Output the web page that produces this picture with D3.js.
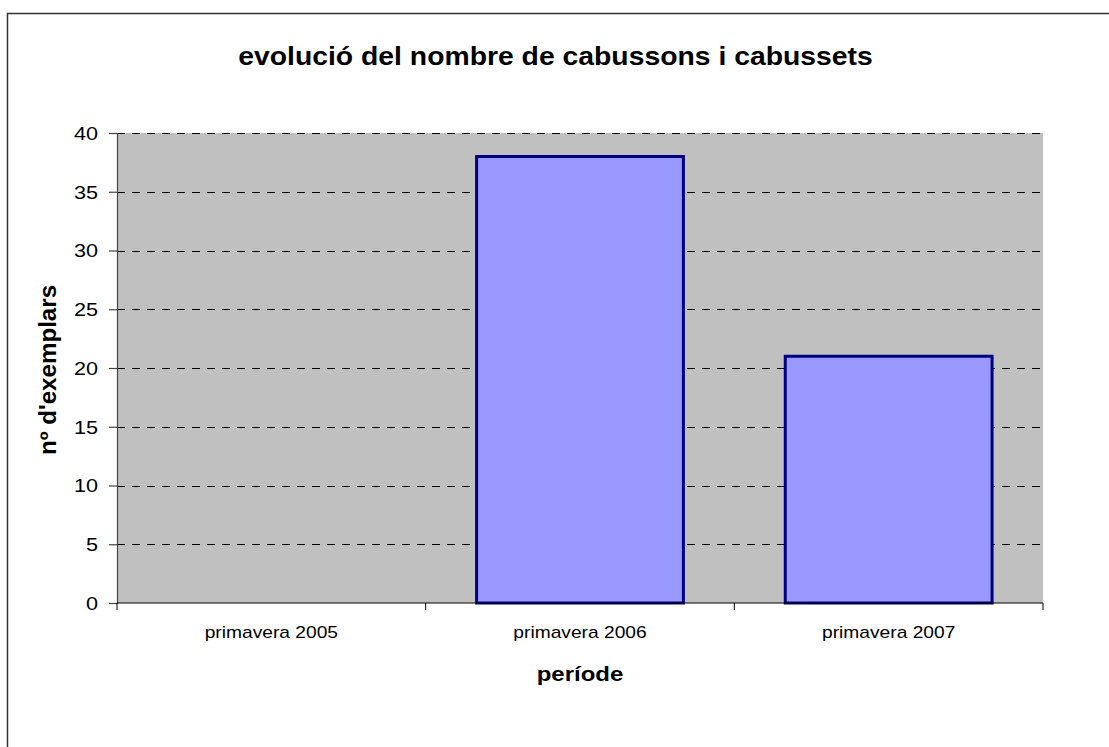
<!DOCTYPE html>
<html>
<head>
<meta charset="utf-8">
<script src="https://cdn.jsdelivr.net/npm/d3@7"></script>
<style>
  body { margin: 0; background: #fff; }
  text { font-family: "Liberation Sans", Arial, sans-serif; fill: #000; }
</style>
</head>
<body>
<div id="chart"></div>
<script>
// chart data
var categories = ["primavera 2005", "primavera 2006", "primavera 2007"];
var values = [0, 38, 21];
var yTicks = [0, 5, 10, 15, 20, 25, 30, 35, 40];

var width = 1109, height = 747;
var plot = {left: 117, top: 133, right: 1043, bottom: 603};

var svg = d3.select("#chart").append("svg")
    .attr("width", width)
    .attr("height", height);

// outer chart border (runs off the picture on right and bottom)
svg.append("rect")
    .attr("x", 7.5).attr("y", 13.5)
    .attr("width", 1130).attr("height", 760)
    .attr("fill", "#fff")
    .attr("stroke", "#333")
    .attr("stroke-width", 1.5);

var x = d3.scaleBand()
    .domain(categories)
    .range([plot.left, plot.right])
    .padding(0);

var y = d3.scaleLinear()
    .domain([0, 40])
    .range([plot.bottom, plot.top]);

// plot area
svg.append("rect")
    .attr("x", plot.left).attr("y", plot.top)
    .attr("width", plot.right - plot.left)
    .attr("height", plot.bottom - plot.top)
    .attr("fill", "#c0c0c0");

// dashed gridlines
svg.append("g")
    .selectAll("line")
    .data(yTicks.filter(function(d) { return d > 0; }))
    .join("line")
    .attr("x1", plot.left).attr("x2", plot.right)
    .attr("y1", function(d) { return Math.round(y(d)) + 0.5; })
    .attr("y2", function(d) { return Math.round(y(d)) + 0.5; })
    .attr("stroke", "#000")
    .attr("stroke-width", 1)
    .attr("stroke-dasharray", "8,7");

// bars
var barW = x.bandwidth() * 0.67;
svg.append("g")
    .selectAll("rect")
    .data(values)
    .join("rect")
    .attr("x", function(d, i) { return x(categories[i]) + (x.bandwidth() - barW) / 2; })
    .attr("y", function(d) { return y(d); })
    .attr("width", barW)
    .attr("height", function(d) { return plot.bottom - y(d); })
    .attr("fill", "#9999ff")
    .attr("stroke", "#000080")
    .attr("stroke-width", 3)
    .style("display", function(d) { return d > 0 ? null : "none"; });

// y axis
var yAxis = svg.append("g")
    .attr("transform", "translate(" + plot.left + ",0)")
    .call(d3.axisLeft(y).tickValues(yTicks).tickSize(8));
yAxis.selectAll("path, line").attr("stroke", "#444").attr("stroke-width", 1.2);
yAxis.selectAll("text")
    .attr("x", 0)
    .attr("dy", "0.35em")
    .attr("fill", "#000")
    .attr("transform", "translate(-19,0) scale(1.2,1)")
    .style("font-size", "18px")
    .style("font-family", "Liberation Sans, Arial, sans-serif");

// x axis: ticks on category boundaries
var xAxis = svg.append("g")
    .attr("transform", "translate(0," + plot.bottom + ")");
xAxis.append("line")
    .attr("x1", plot.left).attr("x2", plot.right)
    .attr("stroke", "#000").attr("stroke-width", 1.2);
var bounds = categories.map(function(c) { return x(c); }).concat([plot.right]);
xAxis.selectAll("line.tick")
    .data(bounds)
    .join("line")
    .attr("class", "tick")
    .attr("x1", function(d) { return d; }).attr("x2", function(d) { return d; })
    .attr("y1", 0).attr("y2", 7)
    .attr("stroke", "#000");
xAxis.selectAll("text")
    .data(categories)
    .join("text")
    .attr("text-anchor", "middle")
    .style("font-size", "16px")
    .attr("transform", function(d) {
        return "translate(" + (x(d) + x.bandwidth() / 2) + ",35) scale(1.2,1)";
    })
    .text(function(d) { return d; });

// title
svg.append("text")
    .attr("text-anchor", "middle")
    .style("font-size", "26px")
    .attr("font-weight", "bold")
    .attr("transform", "translate(555.5,65) scale(1.09,1)")
    .text("evolució del nombre de cabussons i cabussets");

// axis titles
svg.append("text")
    .attr("text-anchor", "middle")
    .style("font-size", "20px")
    .attr("font-weight", "bold")
    .attr("transform", "translate(" + ((plot.left + plot.right) / 2) + ",681) scale(1.2,1)")
    .text("període");

svg.append("text")
    .attr("text-anchor", "middle")
    .style("font-size", "21px")
    .attr("font-weight", "bold")
    .attr("transform", "translate(56,370) rotate(-90) scale(1.15,1.1)")
    .text("nº d'exemplars");
</script>
</body>
</html>
